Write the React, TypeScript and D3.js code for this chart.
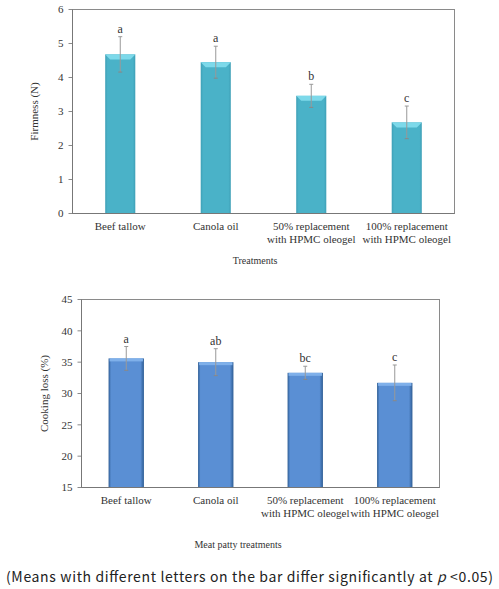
import React from "react";
import * as d3 from "d3";

const categories = ["Beef tallow", "Canola oil", "50% replacement|with HPMC oleogel", "100% replacement|with HPMC oleogel"];
const firmness = [4.68, 4.45, 3.46, 2.68];
const firmnessErr = [0.52, 0.47, 0.34, 0.48];
const firmnessLetters = ["a", "a", "b", "c"];
const firmnessTicks = [0, 1, 2, 3, 4, 5, 6];

const cooking = [35.6, 35.0, 33.3, 31.7];
const cookingErr = [1.9, 2.15, 1.05, 2.85];
const cookingLetters = ["a", "ab", "bc", "c"];
const cookingTicks = [15, 20, 25, 30, 35, 40, 45];

const serif = "'Liberation Serif', 'Times New Roman', serif";

type PanelProps = {
  values: number[];
  errs: number[];
  letters: string[];
  ticks: number[];
  domain: [number, number];
  left: number; right: number; top: number; bottom: number;
  barFrac: number;
  yTitle: string; yTitleX: number;
  xTitle: string; xTitleX: number; xTitleY: number;
  gradId: string;
  style: "teal" | "blue";
};

function Panel(p: PanelProps) {
  const x = d3.scaleBand<string>().domain(categories).range([p.left, p.right]);
  const y = d3.scaleLinear().domain(p.domain).range([p.bottom, p.top]);
  const bw = x.bandwidth() * p.barFrac;
  const midY = (p.top + p.bottom) / 2;
  return (
    <g>
      <defs>
        {p.style === "teal" ? (
          <linearGradient id={p.gradId} x1="0" x2="1" y1="0" y2="0">
            <stop offset="0" stopColor="#3e9fb6" />
            <stop offset="0.08" stopColor="#4ab2c8" />
            <stop offset="0.92" stopColor="#4ab2c8" />
            <stop offset="1" stopColor="#3e9fb6" />
          </linearGradient>
        ) : (
          <linearGradient id={p.gradId} x1="0" x2="1" y1="0" y2="0">
            <stop offset="0" stopColor="#2d5c93" />
            <stop offset="0.07" stopColor="#5a8fd4" />
            <stop offset="0.9" stopColor="#5a8fd4" />
            <stop offset="1" stopColor="#2d5c93" />
          </linearGradient>
        )}
      </defs>
      <rect x={p.left} y={p.top} width={p.right - p.left} height={p.bottom - p.top} fill="white" stroke="#8a8a8a" strokeWidth={1} />
      {p.ticks.map((t) => (
        <g key={t}>
          <line x1={p.left - 4} x2={p.left} y1={y(t)} y2={y(t)} stroke="#8a8a8a" />
          <text x={p.left - 9} y={y(t)} dy="0.35em" textAnchor="end" fontFamily={serif} fontSize={11} fill="#333">{t}</text>
        </g>
      ))}
      {categories.map((c, i) => {
        const cx = (x(c) as number) + x.bandwidth() / 2;
        const x0 = cx - bw / 2;
        const yt = y(p.values[i]);
        const bevel = p.style === "teal" ? 5 : 3;
        return (
          <g key={c}>
            <rect x={x0} y={yt} width={bw} height={p.bottom - yt} fill={`url(#${p.gradId})`} />
            {p.style === "teal" ? (
              <polygon points={`${x0},${yt} ${x0 + bw},${yt} ${x0 + bw - bevel},${yt + bevel} ${x0 + bevel},${yt + bevel}`} fill="#7dd9ea" />
            ) : (
              <rect x={x0 + 1} y={yt} width={bw - 2} height={bevel} fill="#7fb0ea" />
            )}
            <line x1={cx} x2={cx} y1={y(p.values[i] + p.errs[i])} y2={y(p.values[i] - p.errs[i])} stroke="#999" strokeWidth={1} />
            <line x1={cx - 2} x2={cx + 2} y1={y(p.values[i] + p.errs[i])} y2={y(p.values[i] + p.errs[i])} stroke="#999" />
            <line x1={cx - 2} x2={cx + 2} y1={y(p.values[i] - p.errs[i])} y2={y(p.values[i] - p.errs[i])} stroke="#888" />
            <text x={cx} y={y(p.values[i] + p.errs[i]) - 4} textAnchor="middle" fontFamily={serif} fontSize={12} fill="#333">{p.letters[i]}</text>
            {c.split("|").map((line, k) => (
              <text key={k} x={cx} y={p.bottom + 16 + k * 13} textAnchor="middle" fontFamily={serif} fontSize={11} fill="#333">{line}</text>
            ))}
          </g>
        );
      })}
      <line x1={p.left} x2={p.right} y1={p.bottom} y2={p.bottom} stroke="#777" />
      <line x1={p.left} x2={p.left} y1={p.top} y2={p.bottom} stroke="#777" />
      <text transform={`translate(${p.yTitleX},${midY}) rotate(-90)`} textAnchor="middle" dy="0.35em" fontFamily={serif} fontSize={11} fill="#333">{p.yTitle}</text>
      <text x={p.xTitleX} y={p.xTitleY} textAnchor="middle" dy="0.35em" fontFamily={serif} fontSize={10} fill="#333">{p.xTitle}</text>
    </g>
  );
}

export default function App() {
  return (
    <svg width={499} height={589} style={{ position: "absolute", left: 0, top: 0, background: "white" }}>
      <rect width={499} height={589} fill="white" />
      <Panel values={firmness} errs={firmnessErr} letters={firmnessLetters} ticks={firmnessTicks} domain={[0, 6]}
        left={72.5} right={454.5} top={9.5} bottom={213.5} barFrac={0.315}
        yTitle="Firmness (N)" yTitleX={34} xTitle="Treatments" xTitleX={255} xTitleY={260} gradId="g1" style="teal" />
      <Panel values={cooking} errs={cookingErr} letters={cookingLetters} ticks={cookingTicks} domain={[15, 45]}
        left={81.5} right={439.5} top={299.5} bottom={487.5} barFrac={0.395}
        yTitle="Cooking loss (%)" yTitleX={44} xTitle="Meat patty treatments" xTitleX={238} xTitleY={544} gradId="g2" style="blue" />
      <text x={6} y={577} dy="0.35em" fontFamily="'Noto Sans CJK KR', 'DejaVu Sans', sans-serif" fontSize={14} fill="#222"
        textLength={487} lengthAdjust="spacing">(Means with different letters on the bar differ significantly at <tspan fontStyle="italic">p</tspan> &lt;0.05)</text>
    </svg>
  );
}
